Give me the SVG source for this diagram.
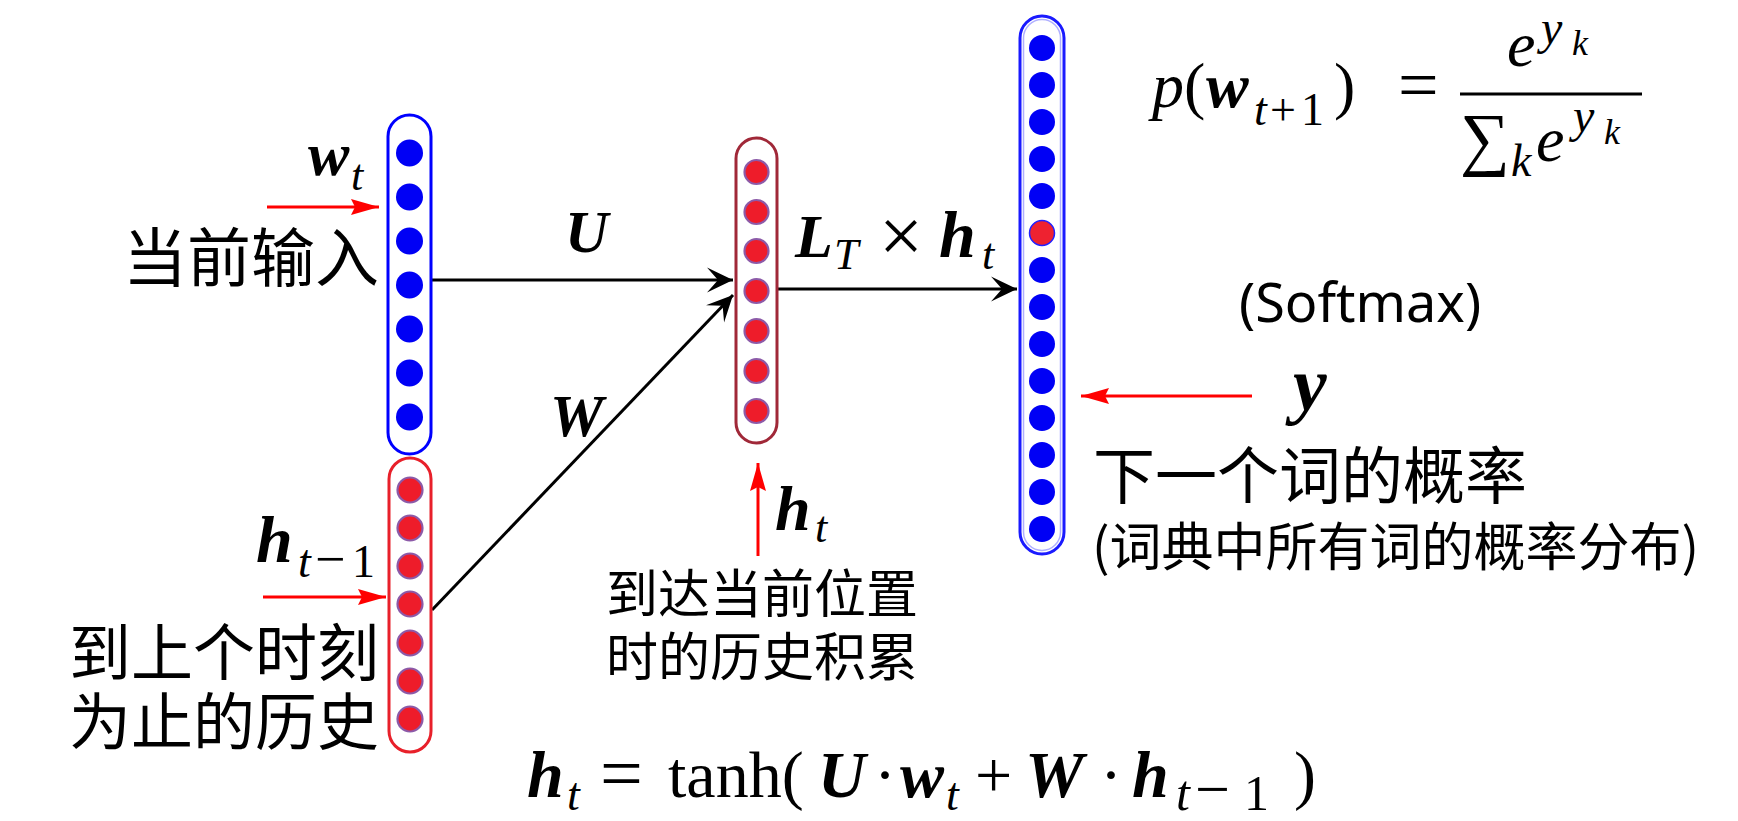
<svg xmlns="http://www.w3.org/2000/svg" width="1738" height="821" viewBox="0 0 1738 821">
<style>
.cjk{font-family:"Noto Sans CJK SC","Noto Sans",sans-serif;fill:#000}
.lat{font-family:"Noto Sans","Open Sans",sans-serif;fill:#000}
.m{font-family:"Liberation Serif","DejaVu Serif",serif;fill:#000}
.bi{font-weight:bold;font-style:italic}
.it{font-style:italic}
.bc{fill:#0000f5}
.rc{fill:#ee1c2a;stroke:#8c5aa8;stroke-width:2.2}
.cap{fill:#fff;stroke-width:3}
.blk{stroke:#000;stroke-width:3;fill:none}
.red{stroke:#ff0000;stroke-width:3;fill:none}
</style>
<defs>
<marker id="ah" viewBox="-28 -14 30 28" markerWidth="30" markerHeight="28" refX="0" refY="0" orient="auto" markerUnits="userSpaceOnUse">
<path d="M0,0 L-26,-12.5 L-15,0 L-26,12.5 Z" fill="#000"/>
</marker>
<marker id="rh" viewBox="-30 -10 32 20" markerWidth="32" markerHeight="20" refX="0" refY="0" orient="auto" markerUnits="userSpaceOnUse">
<path d="M0,0 L-28,-8 L-24,0 L-28,8 Z" fill="#ff0000"/>
</marker>
</defs>

<g id="connectors">
<line class="blk" x1="432" y1="280" x2="733" y2="280" marker-end="url(#ah)"/>
<line class="blk" x1="432" y1="610" x2="733" y2="295" marker-end="url(#ah)"/>
<line class="blk" x1="778" y1="289" x2="1017" y2="289" marker-end="url(#ah)"/>
<line class="red" x1="267" y1="207" x2="379" y2="207" marker-end="url(#rh)"/>
<line class="red" x1="263" y1="597" x2="386" y2="597" marker-end="url(#rh)"/>
<line class="red" x1="758" y1="556" x2="758" y2="463" marker-end="url(#rh)"/>
<line class="red" x1="1252" y1="396" x2="1081" y2="396" marker-end="url(#rh)"/>
</g>

<g id="node-input">
<rect class="cap" x="388" y="115" width="43" height="339" rx="21.5" stroke="#0000ff"/>
<circle class="bc" cx="409.5" cy="153" r="13.5"/>
<circle class="bc" cx="409.5" cy="197" r="13.5"/>
<circle class="bc" cx="409.5" cy="241" r="13.5"/>
<circle class="bc" cx="409.5" cy="285" r="13.5"/>
<circle class="bc" cx="409.5" cy="329" r="13.5"/>
<circle class="bc" cx="409.5" cy="373" r="13.5"/>
<circle class="bc" cx="409.5" cy="417" r="13.5"/>
</g>

<g id="node-history">
<rect class="cap" x="389" y="458" width="42" height="294" rx="21" stroke="#e8202a"/>
<circle class="rc" cx="410" cy="490" r="12.5"/>
<circle class="rc" cx="410" cy="528" r="12.5"/>
<circle class="rc" cx="410" cy="566" r="12.5"/>
<circle class="rc" cx="410" cy="604" r="12.5"/>
<circle class="rc" cx="410" cy="643" r="12.5"/>
<circle class="rc" cx="410" cy="681" r="12.5"/>
<circle class="rc" cx="410" cy="719" r="12.5"/>
</g>

<g id="node-hidden">
<rect class="cap" x="736" y="138" width="41" height="305" rx="20.5" stroke="#a02838" fill="#fdf8fa"/>
<circle class="rc" cx="756.5" cy="172" r="12"/>
<circle class="rc" cx="756.5" cy="212" r="12"/>
<circle class="rc" cx="756.5" cy="251" r="12"/>
<circle class="rc" cx="756.5" cy="291" r="12"/>
<circle class="rc" cx="756.5" cy="331" r="12"/>
<circle class="rc" cx="756.5" cy="371" r="12"/>
<circle class="rc" cx="756.5" cy="411" r="12"/>
</g>

<g id="node-output">
<rect class="cap" x="1020" y="16" width="44" height="538" rx="22" stroke="#1a1aff" stroke-width="3.5"/>
<rect x="1023.5" y="19.5" width="37" height="531" rx="18.5" fill="none" stroke="#b0b0ff" stroke-width="1.5"/>
<circle class="bc" cx="1042" cy="48" r="13"/>
<circle class="bc" cx="1042" cy="85" r="13"/>
<circle class="bc" cx="1042" cy="122" r="13"/>
<circle class="bc" cx="1042" cy="159" r="13"/>
<circle class="bc" cx="1042" cy="196" r="13"/>
<circle cx="1042" cy="233" r="12.5" fill="#ee2230" stroke="#2020ff" stroke-width="1.5"/>
<circle class="bc" cx="1042" cy="270" r="13"/>
<circle class="bc" cx="1042" cy="307" r="13"/>
<circle class="bc" cx="1042" cy="344" r="13"/>
<circle class="bc" cx="1042" cy="381" r="13"/>
<circle class="bc" cx="1042" cy="418" r="13"/>
<circle class="bc" cx="1042" cy="455" r="13"/>
<circle class="bc" cx="1042" cy="492" r="13"/>
<circle class="bc" cx="1042" cy="529" r="13"/>
</g>

<g id="labels">
<text class="cjk" x="379" y="281" font-size="64" text-anchor="end">当前输入</text>
<text class="cjk" x="379" y="676" font-size="62" text-anchor="end">到上个时刻</text>
<text class="cjk" x="379" y="745" font-size="62" text-anchor="end">为止的历史</text>
<text class="cjk" x="762" y="613" font-size="52" text-anchor="middle">到达当前位置</text>
<text class="cjk" x="762" y="676" font-size="52" text-anchor="middle">时的历史积累</text>
<text class="cjk" x="1093" y="499" font-size="62">下一个词的概率</text>
<text class="cjk" x="1092" y="566" font-size="52">(词典中所有词的概率分布)</text>
<text class="lat" x="1239" y="322" font-size="54">(Softmax)</text>

<text class="m bi" x="308" y="175" font-size="62">w</text>
<text class="m it" x="351" y="190" font-size="44">t</text>
<text class="m bi" x="256" y="562" font-size="66">h</text>
<text class="m" y="577" font-size="46"><tspan class="it" x="298">t</tspan><tspan x="315" font-size="54">−</tspan><tspan x="352">1</tspan></text>
<text class="m bi" x="775" y="530" font-size="64">h</text>
<text class="m it" x="815" y="542" font-size="44">t</text>
<text class="m bi" x="565" y="252" font-size="60">U</text>
<text class="m bi" x="550" y="436" font-size="60">W</text>
<text class="m bi" x="795" y="257" font-size="62">L</text>
<text class="m it" x="834" y="269" font-size="44">T</text>
<text class="m" x="879" y="262" font-size="78">×</text>
<text class="m bi" x="939" y="257" font-size="66">h</text>
<text class="m it" x="982" y="269" font-size="44">t</text>
<text class="m bi" x="1293" y="410" font-size="76">y</text>
</g>

<g id="formula-softmax">
<text class="m it" x="1152" y="107" font-size="64">p</text>
<text class="m" x="1184" y="107" font-size="64">(</text>
<text class="m bi" x="1206" y="107" font-size="64">w</text>
<text class="m" y="125" font-size="46"><tspan class="it" x="1254">t</tspan><tspan x="1270">+</tspan><tspan x="1301">1</tspan></text>
<text class="m" x="1334" y="107" font-size="64">)</text>
<text class="m" x="1398" y="109" font-size="72">=</text>
<line x1="1460" y1="94" x2="1642" y2="94" stroke="#000" stroke-width="3"/>
<text class="m it" x="1507" y="66" font-size="64">e</text>
<text class="m it" x="1541" y="44" font-size="48">y</text>
<text class="m it" x="1572" y="55" font-size="36">k</text>
<text class="m" x="1460" y="162" font-size="70">∑</text>
<text class="m it" x="1511" y="176" font-size="46">k</text>
<text class="m it" x="1536" y="161" font-size="64">e</text>
<text class="m it" x="1573" y="132" font-size="48">y</text>
<text class="m it" x="1604" y="144" font-size="36">k</text>
</g>

<g id="formula-ht">
<text class="m bi" x="527" y="797" font-size="66">h</text>
<text class="m it" x="567" y="810" font-size="46">t</text>
<text class="m" x="600" y="799" font-size="76">=</text>
<text class="m" x="668" y="797" font-size="66">tanh(</text>
<text class="m bi" x="818" y="797" font-size="66">U</text>
<text class="m" x="874" y="797" font-size="66">·</text>
<text class="m bi" x="900" y="797" font-size="66">w</text>
<text class="m it" x="946" y="810" font-size="46">t</text>
<text class="m" x="975" y="797" font-size="66">+</text>
<text class="m bi" x="1025" y="797" font-size="66">W</text>
<text class="m" x="1100" y="797" font-size="66">·</text>
<text class="m bi" x="1132" y="797" font-size="66">h</text>
<text class="m" y="810" font-size="50"><tspan class="it" x="1176">t</tspan><tspan x="1195" font-size="62">−</tspan><tspan x="1244">1</tspan></text>
<text class="m" x="1294" y="797" font-size="66">)</text>
</g>
</svg>
